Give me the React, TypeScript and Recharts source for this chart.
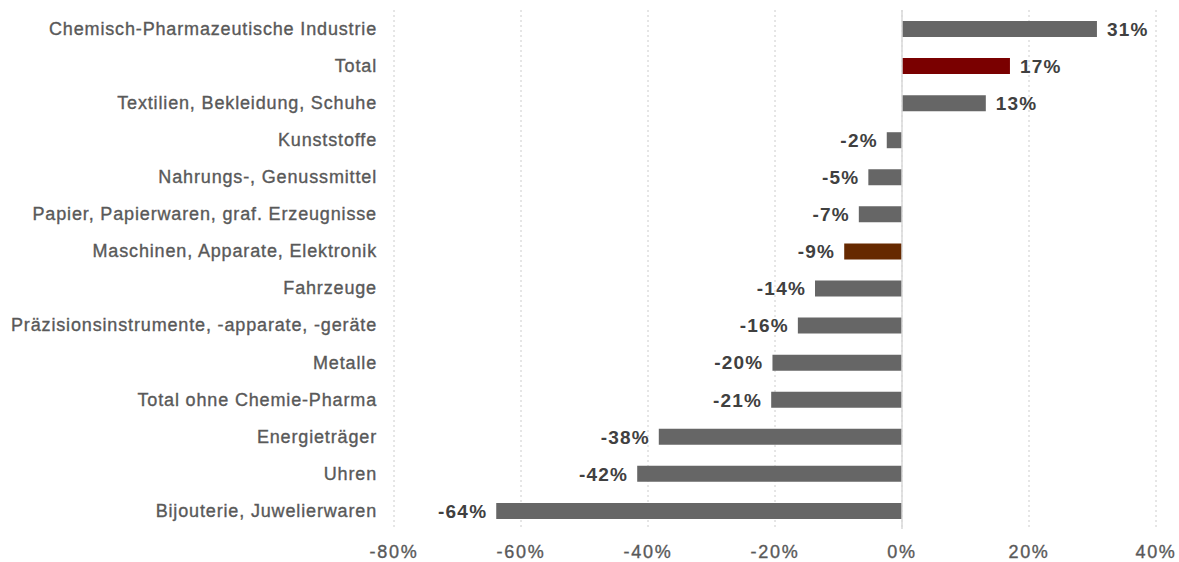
import {
  Bar,
  BarChart,
  CartesianGrid,
  Cell,
  LabelList,
  ReferenceLine,
  XAxis,
  YAxis,
} from "recharts";

const categories = [
  "Chemisch-Pharmazeutische Industrie",
  "Total",
  "Textilien, Bekleidung, Schuhe",
  "Kunststoffe",
  "Nahrungs-, Genussmittel",
  "Papier, Papierwaren, graf. Erzeugnisse",
  "Maschinen, Apparate, Elektronik",
  "Fahrzeuge",
  "Präzisionsinstrumente, -apparate, -geräte",
  "Metalle",
  "Total ohne Chemie-Pharma",
  "Energieträger",
  "Uhren",
  "Bijouterie, Juwelierwaren",
];

const changes = [
  0.307, 0.17, 0.132, -0.024, -0.053, -0.068, -0.091, -0.137, -0.164, -0.204,
  -0.206, -0.383, -0.417, -0.639,
];

const xTicks = [-0.8, -0.6, -0.4, -0.2, 0, 0.2, 0.4];

const highlight: Record<string, string> = {
  Total: "#7a0000",
  "Maschinen, Apparate, Elektronik": "#662900",
};

const data = categories.map((name, i) => ({ name, value: changes[i] }));

const pct = (v: number) => `${Math.round(v * 100)}%`;

const FONT = "'Liberation Sans', Arial, sans-serif";

const axisTick = {
  fill: "#595959",
  fontSize: 18,
  fontFamily: FONT,
  stroke: "#595959",
  strokeWidth: 0.35,
};

function ValueLabel(props: any) {
  const { x, y, width, height, value } = props;
  const neg = value < 0;
  return (
    <text
      x={neg ? Math.min(x, x + width) - 9 : x + width + 10}
      y={y + height / 2}
      dy="0.36em"
      textAnchor={neg ? "end" : "start"}
      fill="#404040"
      fontSize={19}
      fontWeight="bold"
      letterSpacing={1.2}
      fontFamily={FONT}
    >
      {pct(value)}
    </text>
  );
}

export default function App() {
  return (
    <div style={{ position: "absolute", left: 0, top: 0, background: "#fff" }}>
      <BarChart
        width={1179}
        height={562}
        data={data}
        layout="vertical"
        margin={{ top: 10, right: 23, bottom: 0, left: 0 }}
        barSize={16}
      >
        <CartesianGrid
          horizontal={false}
          stroke="#cccccc"
          strokeDasharray="2 3"
        />
        <XAxis
          type="number"
          domain={[-0.8, 0.4]}
          ticks={xTicks}
          tickFormatter={pct}
          axisLine={false}
          tickLine={false}
          tickSize={0}
          tickMargin={16}
          height={33}
          tick={{ ...axisTick, letterSpacing: 1.7 }}
        />
        <YAxis
          type="category"
          dataKey="name"
          width={394}
          axisLine={false}
          tickLine={false}
          tickSize={0}
          tickMargin={17}
          interval={0}
          tick={{ ...axisTick, letterSpacing: 0.85 }}
        />
        <ReferenceLine x={0} stroke="#d9d9d9" strokeWidth={1.5} />
        <Bar dataKey="value" isAnimationActive={false}>
          {data.map((d) => (
            <Cell key={d.name} fill={highlight[d.name] ?? "#666666"} />
          ))}
          <LabelList dataKey="value" content={ValueLabel} />
        </Bar>
      </BarChart>
    </div>
  );
}
